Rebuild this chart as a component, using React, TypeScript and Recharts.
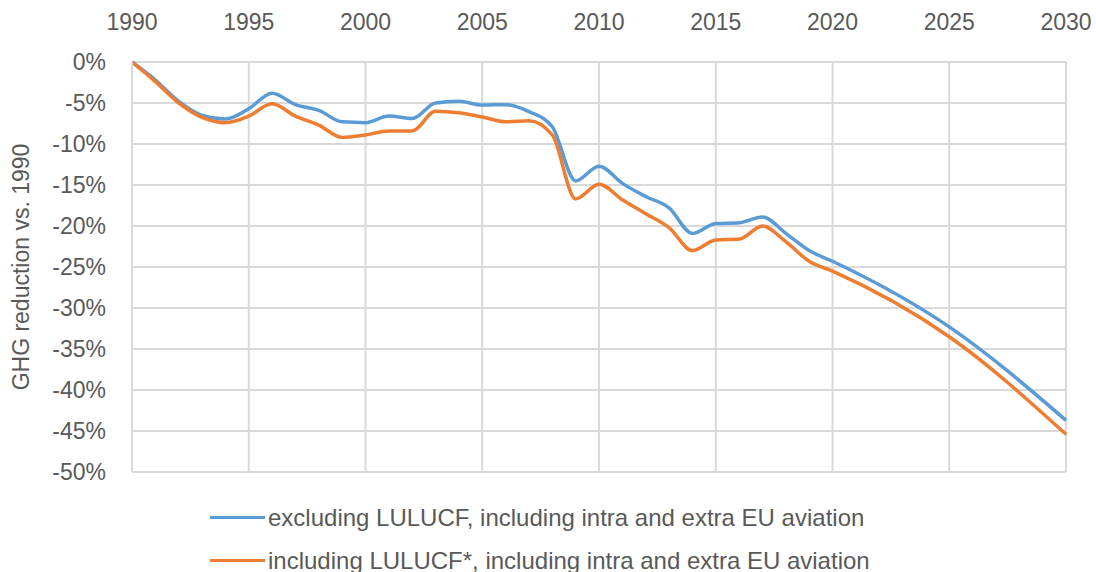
import { LineChart, Line, XAxis, YAxis, CartesianGrid } from 'recharts';

const years = [
  1990, 1991, 1992, 1993, 1994, 1995, 1996, 1997, 1998, 1999, 2000, 2001, 2002, 2003, 2004, 2005,
  2006, 2007, 2008, 2009, 2010, 2011, 2012, 2013, 2014, 2015, 2016, 2017, 2018, 2019, 2020, 2025,
  2030,
];

// excluding LULUCF, including intra and extra EU aviation
const excludingLulucf = [
  0, -2.2, -4.8, -6.5, -6.95, -5.7, -3.8, -5.2, -5.9, -7.3, -7.4, -6.6, -6.9, -5.0, -4.8, -5.25,
  -5.2, -6.05, -7.9, -14.5, -12.7, -14.8, -16.4, -17.8, -20.9, -19.7, -19.6, -18.9, -20.9, -23.0,
  -24.3, -32.3, -43.7,
];

// including LULUCF*, including intra and extra EU aviation
const includingLulucf = [
  0, -2.4, -5.0, -6.75, -7.4, -6.6, -5.1, -6.6, -7.7, -9.2, -8.9, -8.4, -8.4, -6.0, -6.2, -6.7,
  -7.3, -7.15, -8.9, -16.7, -14.9, -16.8, -18.5, -20.2, -23.0, -21.7, -21.6, -20.0, -21.9, -24.3,
  -25.5, -33.5, -45.4,
];

const xTicks = [1990, 1995, 2000, 2005, 2010, 2015, 2020, 2025, 2030];
const yTicks = [0, -5, -10, -15, -20, -25, -30, -35, -40, -45, -50];

const seriesNames = [
  'excluding LULUCF, including intra and extra EU aviation',
  'including LULUCF*, including intra and extra EU aviation',
];

const BLUE = '#5b9bd5';
const ORANGE = '#ed7d31';
const TEXT = '#595959';
const GRID = '#d9d9d9';
const FONT = '"Liberation Sans", Arial, sans-serif';

const data = years.map((year, i) => ({
  year,
  excl: excludingLulucf[i],
  incl: includingLulucf[i],
}));

export default function App() {
  return (
    <div style={{ position: 'absolute', left: 0, top: 0, width: 1096, height: 572, overflow: 'hidden', background: '#fff', fontFamily: FONT }}>
      <LineChart width={1096} height={572} data={data} margin={{ top: 22, right: 30, bottom: 100, left: 32 }}>
        <CartesianGrid stroke={GRID} strokeWidth={2} />
        <XAxis
          dataKey="year"
          type="number"
          orientation="top"
          domain={[1990, 2030]}
          ticks={xTicks}
          height={40}
          axisLine={false}
          tickLine={false}
          tickMargin={26}
          tick={{ fill: TEXT, fontSize: 23, fontFamily: FONT }}
        />
        <YAxis
          type="number"
          domain={[-50, 0]}
          ticks={yTicks}
          width={100}
          axisLine={{ stroke: GRID, strokeWidth: 2 }}
          tickLine={false}
          tickMargin={20}
          tickFormatter={(v: number) => `${v}%`}
          tick={{ fill: TEXT, fontSize: 23, fontFamily: FONT }}
          label={{
            value: 'GHG reduction vs. 1990',
            angle: -90,
            position: 'insideLeft',
            dx: -16,
            style: { fill: TEXT, fontSize: 23, fontFamily: FONT, textAnchor: 'middle' },
          }}
        />
        <Line type="monotone" dataKey="excl" name={seriesNames[0]} stroke={BLUE} strokeWidth={3.5} dot={false} isAnimationActive={false} />
        <Line type="monotone" dataKey="incl" name={seriesNames[1]} stroke={ORANGE} strokeWidth={3.5} dot={false} isAnimationActive={false} />
      </LineChart>
      <div style={{ position: 'absolute', left: 210, top: 496, color: TEXT, fontSize: 24 }}>
        {seriesNames.map((name, i) => (
          <div key={name} style={{ display: 'flex', alignItems: 'center', height: 43, whiteSpace: 'nowrap' }}>
            <span style={{ display: 'inline-block', width: 55, height: 3, background: i === 0 ? BLUE : ORANGE, marginRight: 3 }} />
            <span>{name}</span>
          </div>
        ))}
      </div>
    </div>
  );
}
